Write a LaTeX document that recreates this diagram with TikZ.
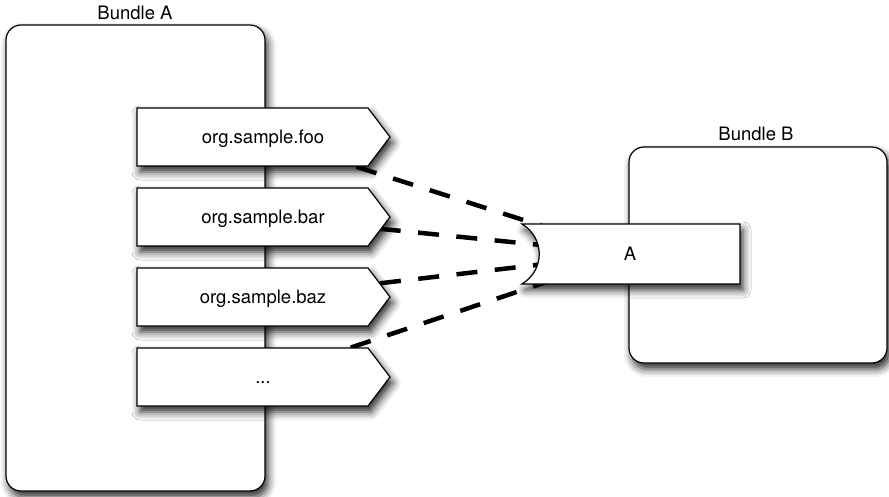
\documentclass[tikz,border=0pt]{standalone}
\usepackage{fontspec}
\setmainfont{TeX Gyre Heros}
\usetikzlibrary{shadows.blur}
\begin{document}
\begin{tikzpicture}[x=1pt,y=-1pt,
  lbl/.style={font=\fontsize{18.5}{22}\selectfont, inner sep=0pt, text height=13.3pt, text depth=0pt},
  shad/.style={blur shadow={shadow xshift=3pt, shadow yshift=-6pt, shadow blur radius=8pt, shadow opacity=85}},
  box/.style={draw=black, line width=1.2pt, fill=white, shad},
  link/.style={line width=4.5pt, dash pattern=on 21pt off 17.5pt}
]
\useasboundingbox (0,0) rectangle (889,497);
% Bundle A
\draw[box, rounded corners=15pt] (6,25) rectangle (265,491);
\node[lbl] (labA) at (135,13) {Bundle A};
% Bundle B
\draw[box, rounded corners=15pt] (629,147) rectangle (887,363);
\node[lbl] (labB) at (756,133.5) {Bundle B};
% centres
\coordinate (c1) at (263,137);
\coordinate (c2) at (263,217);
\coordinate (c3) at (263,297);
\coordinate (c4) at (263,377);
\coordinate (cA) at (630,254);
% links (under the shapes)
\draw[link, dash phase=17.5pt] (c1) -- (cA);
\draw[link, dash phase=36.7pt] (c2) -- (cA);
\draw[link, dash phase=36.2pt] (c3) -- (cA);
\draw[link, dash phase=23pt] (c4) -- (cA);
% export shapes
\foreach \t in {108,188,268,348}{
  \draw[box] (137,\t) -- (368,\t) -- (390,\t+29) -- (368,\t+58) -- (137,\t+58) -- cycle;
}
\node[lbl] (e1) at (c1) {org.sample.foo};
\node[lbl] (e2) at (c2) {org.sample.bar};
\node[lbl] (e3) at (c3) {org.sample.baz};
\node[lbl] (e4) at (c4) {...};
% import box A
\draw[box] (522,224) -- (740,224) -- (740,284) -- (522,284)
  .. controls (545,270) and (545,238) .. (522,224) -- cycle;
\node[lbl] (nA) at (cA) {A};
\end{tikzpicture}
\end{document}
